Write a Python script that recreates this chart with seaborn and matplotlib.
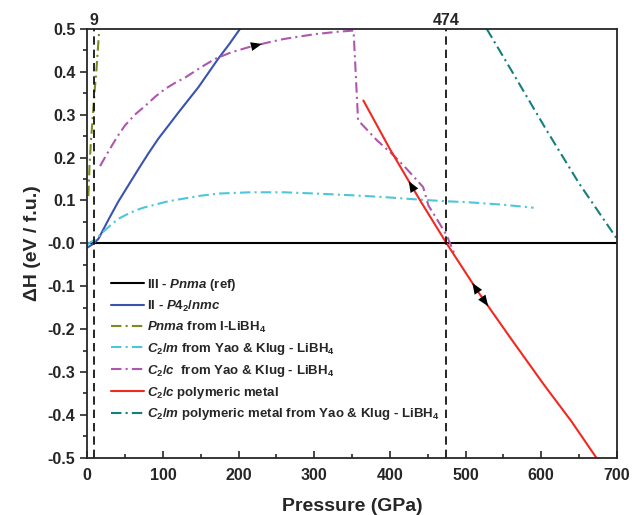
import numpy as np
import seaborn as sns
import matplotlib.pyplot as plt

sns.set_style("ticks")
plt.rcParams['font.family'] = ['Liberation Sans', 'DejaVu Sans']
plt.rcParams['font.weight'] = 'bold'
plt.rcParams['mathtext.fontset'] = 'custom'
plt.rcParams['mathtext.rm'] = 'Liberation Sans:bold'
plt.rcParams['mathtext.it'] = 'Liberation Sans:italic:bold'
plt.rcParams['mathtext.bf'] = 'Liberation Sans:bold'

# data (pressure in GPa, enthalpy difference in eV / f.u.)
p_ref = [0, 700]
h_ref = [0, 0]

p_ii = [0, 2, 9, 15, 28, 41, 55, 68, 81, 94, 108, 121, 134, 147, 160, 173, 188, 202]
h_ii = [-0.01, -0.008, 0.0, 0.011, 0.055, 0.097, 0.137, 0.174, 0.21, 0.244, 0.276, 0.306, 0.335,
        0.364, 0.397, 0.43, 0.465, 0.5]

p_pnma = [1.5, 3, 5, 7.5, 10, 12, 14, 16]
h_pnma = [0.11, 0.18, 0.24, 0.30, 0.36, 0.40, 0.45, 0.5]

p_c2m = [0, 2, 10, 19, 30, 41, 52, 63, 74, 85, 107, 130, 150, 173, 215, 260, 303, 350, 391, 430,
         475, 502, 550, 590]
h_c2m = [-0.005, 0.0, 0.008, 0.023, 0.041, 0.057, 0.067, 0.076, 0.083, 0.088, 0.098, 0.105, 0.111,
         0.116, 0.119, 0.119, 0.116, 0.112, 0.108, 0.103, 0.098, 0.096, 0.09, 0.083]

p_c2c = [17, 25, 33, 41, 50, 63, 77, 90, 103, 116, 130, 150, 169, 190, 213, 236, 259, 280, 303, 330,
         352, 358, 383, 405, 422, 444, 451, 462, 475, 486]
h_c2c = [0.18, 0.205, 0.229, 0.252, 0.275, 0.300, 0.321, 0.342, 0.36, 0.374, 0.387, 0.41, 0.43,
         0.445, 0.457, 0.467, 0.476, 0.482, 0.488, 0.493, 0.496, 0.287, 0.24, 0.205, 0.174, 0.131,
         0.088, 0.057, 0.019, -0.027]

p_metal = [365, 400, 440, 475, 517, 560, 603, 640, 673]
h_metal = [0.333, 0.22, 0.1, 0.0, -0.114, -0.222, -0.328, -0.415, -0.5]

p_c2m_metal = [528, 560, 607, 650, 700]
h_c2m_metal = [0.5, 0.405, 0.264, 0.14, 0.011]

transitions = [9, 474]

dashdot = (0, (5, 2, 1, 2))
series = [
    (p_ref, h_ref, "#000000", "-", r"III - $Pnma$ (ref)"),
    (p_ii, h_ii, "#3A52B0", "-", r"II - $P4_2/nmc$"),
    (p_pnma, h_pnma, "#7F8A1E", dashdot, r"$Pnma$ from I-LiBH$_4$"),
    (p_c2m, h_c2m, "#4CC6DA", dashdot, r"$C_2/m$ from Yao & Klug - LiBH$_4$"),
    (p_c2c, h_c2c, "#AE57AE", dashdot, r"$C_2/c$  from Yao & Klug - LiBH$_4$"),
    (p_metal, h_metal, "#F2291E", "-", r"$C_2/c$ polymeric metal"),
    (p_c2m_metal, h_c2m_metal, "#14807E", dashdot, r"$C_2/m$ polymeric metal from Yao & Klug - LiBH$_4$"),
]

fig = plt.figure(figsize=(6.32, 5.15), dpi=100)
ax = fig.add_axes([0.138, 0.111, 0.838, 0.833])

for p, h, c, ls, lab in series:
    sns.lineplot(x=p, y=h, ax=ax, color=c, linestyle=ls, lw=1.5,
                 label=lab, sort=False, estimator=None)

for t in transitions:
    ax.axvline(t, color="black", ls=(0, (5, 3)), lw=1.2)
    ax.text(t, 0.503, str(t), ha="center", va="bottom", fontsize=11.5, fontweight="bold")


def arrow(ax, p, h, at, step):
    # small arrow head lying on a curve, tip at `at`, pointing with sign of `step`
    y0 = np.interp(at - step, p, h)
    y1 = np.interp(at, p, h)
    ax.annotate("", xy=(at, y1), xytext=(at - step, y0),
                arrowprops=dict(arrowstyle="-|>,head_length=0.8,head_width=0.32",
                                color="black", lw=0, shrinkA=0, shrinkB=0))


arrow(ax, p_c2c, h_c2c, 231, 3)
arrow(ax, p_metal, h_metal, 425, -3)
arrow(ax, p_metal, h_metal, 509, -3)
arrow(ax, p_metal, h_metal, 530, 3)

ax.set_xlim(0, 700)
ax.set_ylim(-0.5, 0.5)
ax.set_xticks(np.arange(0, 701, 100))
ax.set_xticks(np.arange(50, 700, 100), minor=True)
ax.set_yticks(np.round(np.arange(-0.5, 0.51, 0.1), 1))
ax.set_yticks(np.round(np.arange(-0.45, 0.5, 0.1), 2), minor=True)
ax.set_yticklabels([f"{v:.1f}" for v in np.arange(-0.5, 0.51, 0.1)])
ax.set_xticklabels([str(v) for v in range(0, 701, 100)])
ax.tick_params(axis="x", which="both", direction="in", labelsize=11.5, width=1.2, pad=7)
ax.tick_params(axis="y", which="both", direction="out", labelsize=11.5, width=1.2)
ax.tick_params(which="major", length=5)
ax.tick_params(which="minor", length=3)
for s in ax.spines.values():
    s.set_linewidth(1.3)

ax.set_xlabel("Pressure (GPa)", fontsize=14, fontweight="bold", labelpad=11)
ax.set_ylabel("ΔH (eV / f.u.)", fontsize=14, fontweight="bold", labelpad=5)

ax.legend(loc="upper left", bbox_to_anchor=(0.022, 0.45), frameon=False,
          fontsize=9.5, handlelength=2.5, handletextpad=0.25, labelspacing=0.45)

fig.savefig("out.png", dpi=100)
